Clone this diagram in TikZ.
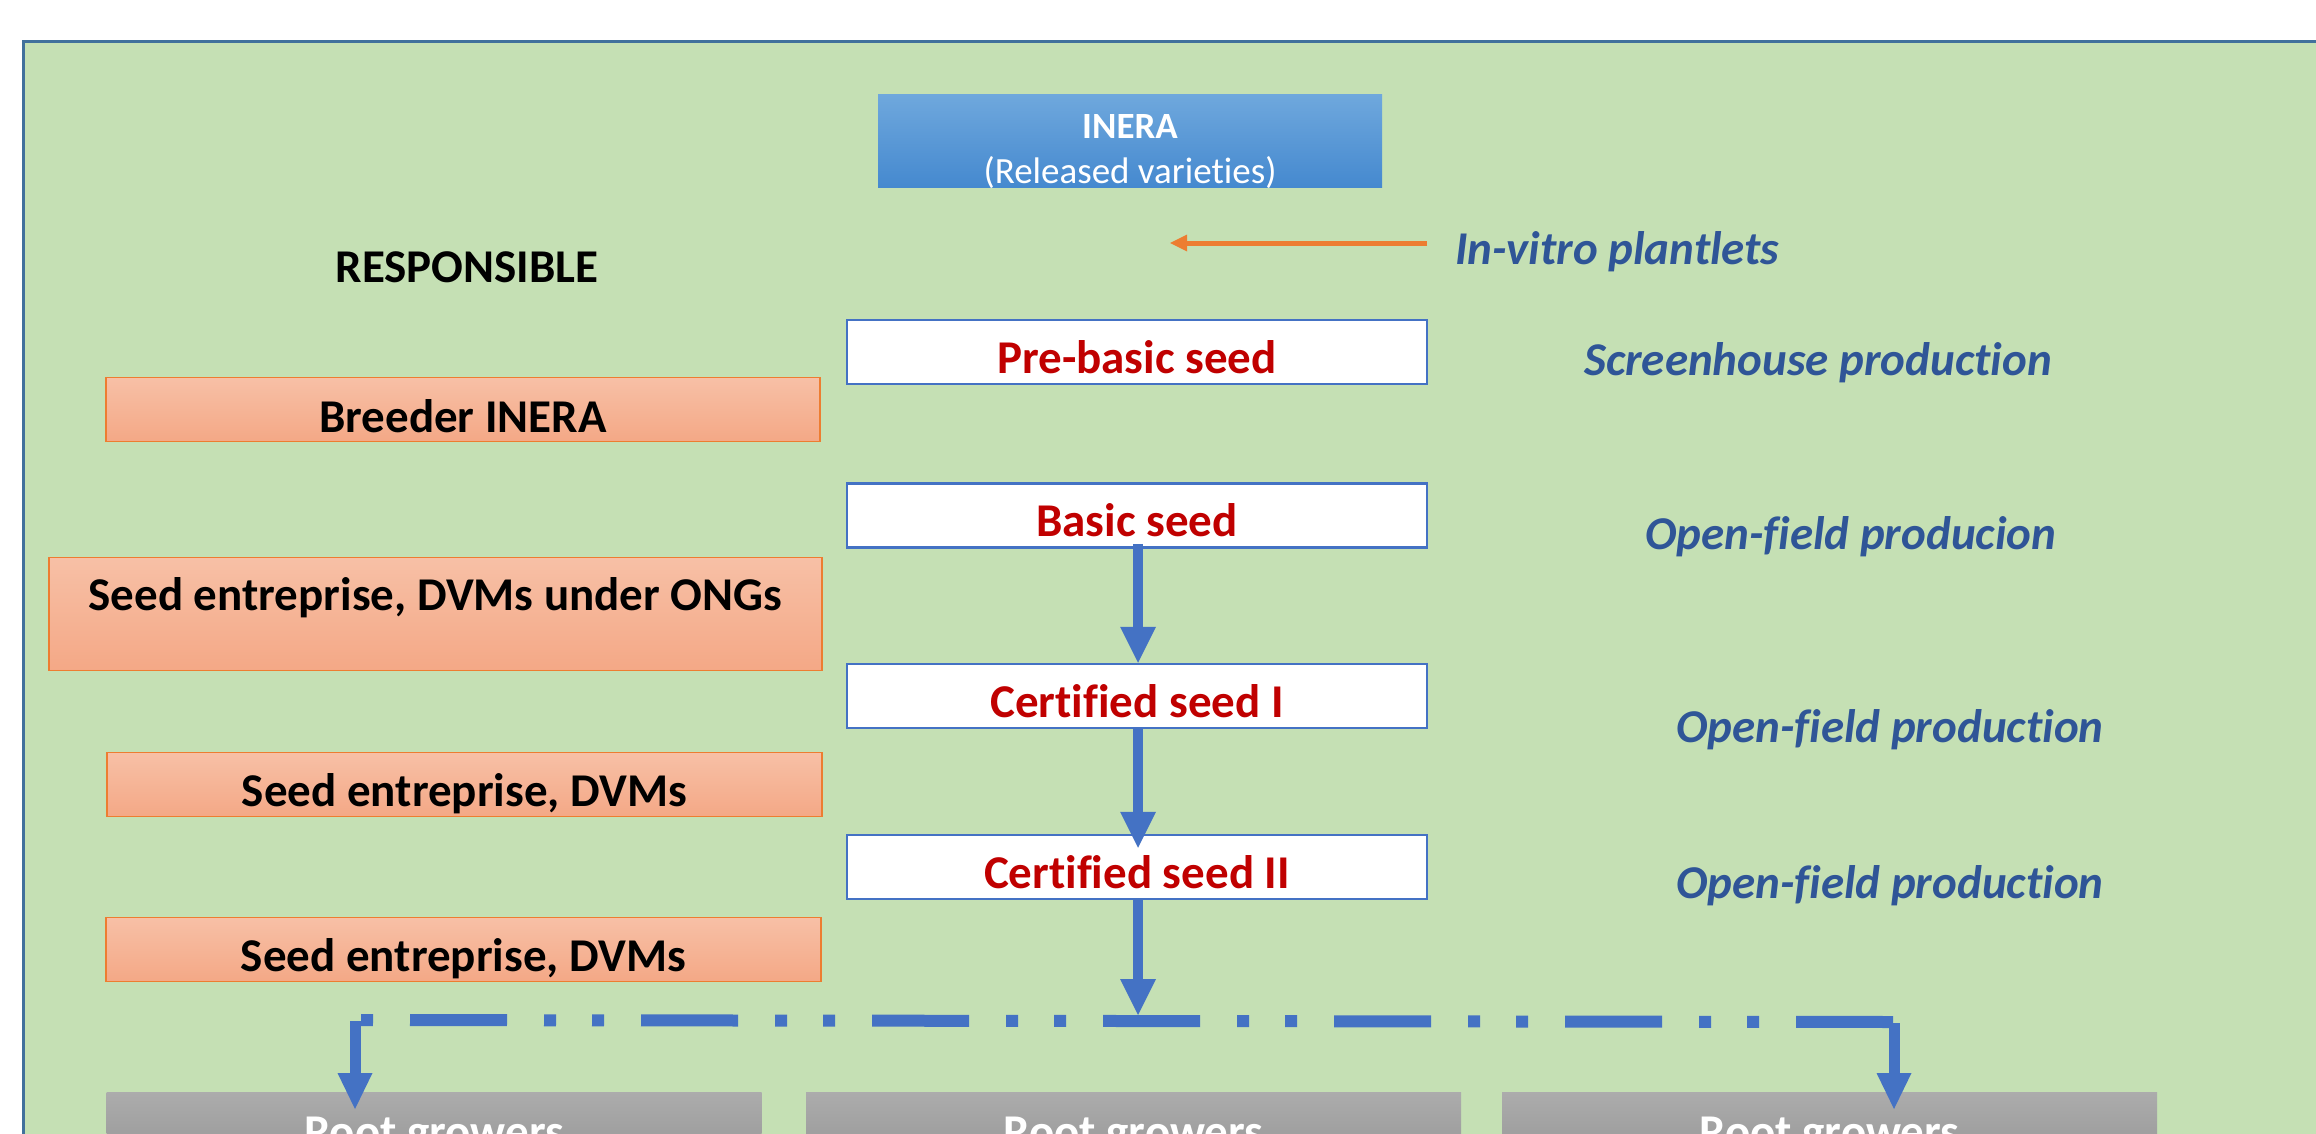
\documentclass[tikz,border=0pt]{standalone}
\usepackage{fontspec}
\setmainfont{Carlito}[Ligatures={NoCommon,NoContextual}]
\usetikzlibrary{arrows.meta}
\definecolor{bggreen}{RGB}{197,224,180}
\definecolor{framec}{RGB}{65,113,156}
\definecolor{boxblue}{RGB}{68,114,196}
\definecolor{seedred}{RGB}{192,0,0}
\definecolor{txtblue}{RGB}{47,85,151}
\definecolor{orline}{RGB}{237,125,49}
\definecolor{ortop}{RGB}{247,192,166}
\definecolor{orbot}{RGB}{244,168,134}
\definecolor{bltop}{RGB}{111,168,221}
\definecolor{blbot}{RGB}{69,137,207}
\definecolor{grtop}{RGB}{172,172,172}
\definecolor{grbot}{RGB}{152,152,152}
\begin{document}
\begin{tikzpicture}[x=1pt,y=-1pt,
  bigfont/.style={font=\fontsize{47}{56}\selectfont\bfseries},
  seedbox/.style={draw=boxblue,line width=2.5pt,fill=white,minimum width=580pt,minimum height=64pt,
    inner sep=0pt,text height=42pt,text depth=0pt,text=seedred,bigfont},
  orbox/.style={draw=orline,line width=1.5pt,top color=ortop,bottom color=orbot,
    inner sep=0pt,minimum height=64pt,text=black,bigfont},
  rootbox/.style={top color=grtop,bottom color=grbot,inner sep=0pt,minimum width=655pt,
    minimum height=66pt,text=white,text height=44pt,text depth=0pt,bigfont},
  sidetext/.style={anchor=base west,inner sep=0pt,text=txtblue,font=\fontsize{47}{56}\selectfont\bfseries\itshape},
  flow/.style={draw=boxblue,line width=10pt,-{Triangle[width=36pt,length=36pt,line width=0pt]}},
  drop/.style={draw=boxblue,line width=11pt,-{Triangle[width=35pt,length=36pt,line width=0pt]}},
  dashline/.style={draw=boxblue,line width=12pt,
    dash pattern=on 97pt off 37pt on 12pt off 36pt on 12pt off 37pt,dash phase=182pt},
  inflow/.style={draw=orline,line width=5pt,-{Triangle[width=17pt,length=17pt,line width=0pt]}}
]
\useasboundingbox (0,0) rectangle (2316,1133);
\clip (0,0) rectangle (2316,1133);
\fill[white] (0,0) rectangle (2316,1133);
\draw[draw=framec,line width=3pt,fill=bggreen] (23,41) rectangle (2400,1200);

% INERA
\node[top color=bltop,bottom color=blbot,minimum width=504pt,minimum height=93pt,inner sep=0pt] (inera) at (1130,140.5) {};
\node[anchor=base,inner sep=0pt,text=white,font=\fontsize{37}{45}\selectfont\bfseries] (ineraT) at (1130,138) {INERA};
\node[anchor=base,inner sep=0pt,text=white,font=\fontsize{37}{45}\selectfont] (ineraS) at (1130,183) {(Released varieties)};

% responsible
\node[anchor=base,inner sep=0pt,text=black,bigfont] (resp) at (467,282) {RESPONSIBLE};

% in-vitro arrow
\coordinate (ivs) at (1427,243);
\coordinate (ive) at (1170,243);
\draw[inflow] (ivs) -- (ive);

% seed boxes
\node[seedbox] (prebasic) at (1137,352) {Pre-basic seed};
\node[seedbox] (basic) at (1137,515.5) {Basic seed};
\node[seedbox] (cert1) at (1137,696) {Certified seed I};
\node[seedbox] (cert2) at (1137,867) {Certified seed II};

% side texts
\node[sidetext] (invitro) at (1455,264) {In-vitro plantlets};
\node[sidetext] (screen) at (1584,375) {Screenhouse production};
\node[sidetext] (open1) at (1645,549) {Open-field producion};
\node[sidetext] (open2) at (1676,742) {Open-field production};
\node[sidetext] (open3) at (1676,898) {Open-field production};

% responsible boxes
\node[orbox,minimum width=714pt,text height=45pt,text depth=0pt] (breeder) at (463,409.5) {Breeder INERA};
\node[orbox,minimum width=773pt,minimum height=113pt,text height=29pt,text depth=37pt] (ongs) at (435.5,614) {Seed entreprise, DVMs under ONGs};
\node[orbox,minimum width=715pt,text height=44pt,text depth=0pt] (ent1) at (464.5,784.5) {Seed entreprise, DVMs};
\node[orbox,minimum width=715pt,text height=44pt,text depth=0pt] (ent2) at (463.5,949.5) {Seed entreprise, DVMs};

% root growers
\node[rootbox] (root1) at (434,1125) {Root growers};
\node[rootbox] (root2) at (1133.5,1125) {Root growers};
\node[rootbox] (root3) at (1829.5,1125) {Root growers};

% flow arrows
\draw[flow] ([yshift=5pt]basic.south -| 1138,0) -- (cert1.north -| 1138,0);
\draw[flow] (cert1.south -| 1138,0) -- ([yshift=-14pt]cert2.north -| 1138,0);
\coordinate (jn) at (1138,1015);
\draw[flow] (cert2.south -| 1138,0) -- (jn);

% distribution line
\coordinate (dl) at (361,1020);
\coordinate (dr) at (1894,1022);
\draw[dashline] (dl) -- (dr);
\coordinate (lc) at (355,1021);
\coordinate (tl) at (355,1109);
\coordinate (rc) at (1894,1023);
\coordinate (tr) at (1894,1109);
\draw[drop] (lc) -- (tl);
\draw[drop] (rc) -- (tr);
\end{tikzpicture}
\end{document}
